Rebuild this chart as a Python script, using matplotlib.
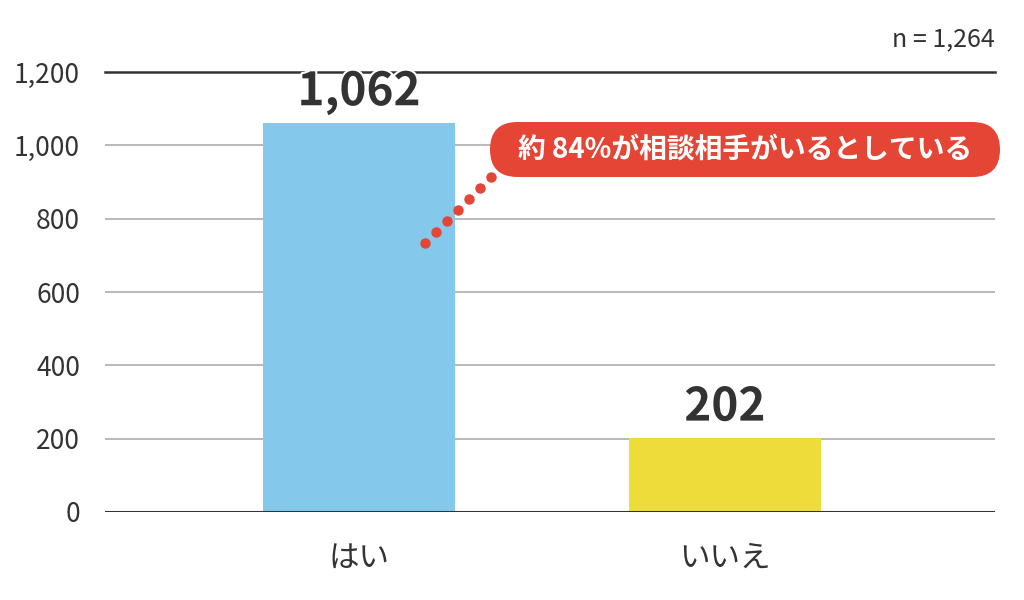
import matplotlib
matplotlib.use("Agg")
import matplotlib.pyplot as plt
from matplotlib.patches import FancyBboxPatch
import matplotlib.patheffects as pe
import numpy as np

plt.rcParams['font.family'] = ['Noto Sans CJK JP', 'DejaVu Sans']

categories = ["はい", "いいえ"]
values = [1062, 202]
colors = ["#84C8EC", "#EEDC3A"]
yticks = [0, 200, 400, 600, 800, 1000, 1200]
ytick_labels = ["0", "200", "400", "600", "800", "1,000", "1,200"]
value_labels = ["1,062", "202"]
n_text = "n = 1,264"
callout_text = "約 84%が相談相手がいるとしている"

W, H = 1024, 600
fig = plt.figure(figsize=(W / 100, H / 100), dpi=100)
ax = fig.add_axes([105 / W, 1 - 512 / H, 890 / W, 440 / H])

x = np.arange(len(categories))
ax.bar(x, values, width=0.525, color=colors, zorder=3)

ax.set_ylim(0, 1200)
ax.set_xlim(-0.694, 1.738)

# grid lines
for t in yticks:
    if t == 0:
        ax.axhline(t, color="#333333", lw=2.2, zorder=4)
    elif t == 1200:
        ax.axhline(t, color="#333333", lw=1.8, zorder=1, clip_on=False)
    else:
        ax.axhline(t, color="#b3b3b3", lw=1.3, zorder=1)

for s in ax.spines.values():
    s.set_visible(False)

ax.set_yticks(yticks)
ax.set_yticklabels(ytick_labels, fontsize=19, color="#333333")
ax.tick_params(axis="y", length=0, pad=18)
ax.set_xticks(x)
ax.set_xticklabels(categories, fontsize=22, color="#333333")
ax.tick_params(axis="x", length=0, pad=22)

# value labels
for xi, v, lab in zip(x, values, value_labels):
    ax.text(xi, v + 20, lab, ha="center", va="bottom", fontsize=33,
            fontweight="bold", color="#333333", zorder=6,
            path_effects=[pe.withStroke(linewidth=3, foreground="white")])

# n label
ax.text(1.0, 1.0 + 20 / 440, n_text, transform=ax.transAxes, ha="right",
        va="bottom", fontsize=18, color="#333333")

# dotted connector
dx = np.linspace(0.18, 0.36, 7)
dy = np.linspace(733, 915, 7)
ax.plot(dx, dy, linestyle="none", marker="o", markersize=6.5,
        color="#E54535", zorder=6, clip_on=False)

# callout pill (in figure inches)
pill = FancyBboxPatch((4.90, (H - 177) / 100), 5.10, 0.55,
                      boxstyle="round,pad=0,rounding_size=0.275",
                      transform=fig.dpi_scale_trans, facecolor="#E54535",
                      edgecolor="none", zorder=7)
fig.patches.append(pill)
fig.text(745 / W, 1 - 150 / H, callout_text, ha="center", va="center",
         fontsize=20, fontweight="bold", color="white", zorder=8)

fig.savefig("out.png", dpi=100)
